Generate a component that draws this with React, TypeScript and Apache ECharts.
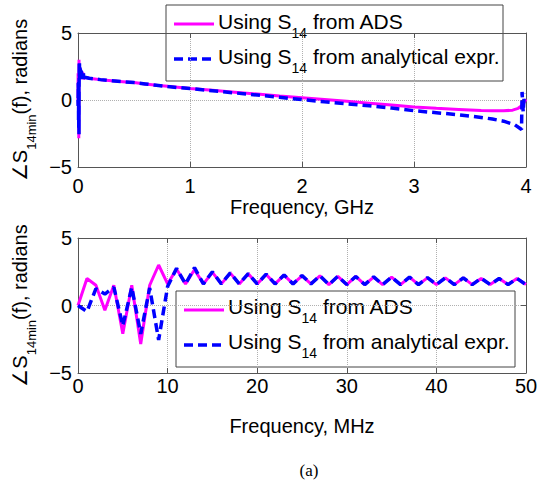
import React, { useEffect, useRef } from "react";
import * as echarts from "echarts";

// ---- Bottom plot (0-50 MHz), also the start of the top plot ----
const botFreq = [0, 1, 2, 3, 4, 5, 6, 7, 8, 9, 10, 11, 12, 13, 14, 15, 16, 17, 18, 19, 20, 21, 22, 23, 24, 25, 26, 27, 28, 29, 30, 31, 32, 33, 34, 35, 36, 37, 38, 39, 40, 41, 42, 43, 44, 45, 46, 47, 48, 49, 50];
const botAdsPhase = [0, 2.0, 1.5, -0.35, 1.5, -2.1, 1.5, -2.85, 1.5, 3.0, 1.6, 2.7, 1.6, 2.65, 1.6, 2.45, 1.6, 2.4, 1.6, 2.35, 1.6, 2.3, 1.6, 2.25, 1.6, 2.2, 1.6, 2.2, 1.55, 2.15, 1.55, 2.15, 1.55, 2.1, 1.55, 2.1, 1.55, 2.1, 1.55, 2.05, 1.55, 2.05, 1.55, 2.05, 1.55, 2.0, 1.55, 2.0, 1.55, 2.0, 1.55];
const botAnaPhase = [0, -0.45, 1.25, 0.85, 1.35, -1.5, 1.35, -2.1, 1.3, -2.55, 1.4, 2.75, 1.6, 2.8, 1.6, 2.5, 1.6, 2.42, 1.6, 2.36, 1.6, 2.32, 1.6, 2.26, 1.6, 2.22, 1.6, 2.2, 1.55, 2.16, 1.55, 2.15, 1.55, 2.12, 1.55, 2.1, 1.55, 2.1, 1.55, 2.06, 1.55, 2.05, 1.55, 2.05, 1.55, 2.02, 1.55, 2.0, 1.55, 2.0, 1.55];

// ---- Top plot (0-4 GHz), continuation beyond 50 MHz ----
const topAdsFreq = [0.06, 0.08, 0.1, 0.15, 0.2, 0.3, 0.4, 0.5, 0.6, 0.7, 0.8, 1.0, 1.2, 1.4, 1.6, 1.8, 2.0, 2.2, 2.4, 2.6, 2.8, 3.0, 3.2, 3.4, 3.5, 3.6, 3.7, 3.8, 3.88, 3.93, 3.97, 4.0];
const topAdsPhase = [1.7, 1.66, 1.62, 1.57, 1.52, 1.44, 1.37, 1.3, 1.2, 1.1, 1.02, 0.86, 0.72, 0.58, 0.44, 0.3, 0.17, 0.04, -0.1, -0.24, -0.38, -0.52, -0.62, -0.7, -0.74, -0.78, -0.8, -0.81, -0.76, -0.62, -0.38, 0.05];
const topAnaFreq = [0.06, 0.08, 0.1, 0.15, 0.2, 0.3, 0.4, 0.5, 0.6, 0.7, 0.8, 1.0, 1.2, 1.4, 1.6, 1.8, 2.0, 2.2, 2.4, 2.6, 2.8, 3.0, 3.2, 3.4, 3.5, 3.6, 3.7, 3.8, 3.9, 3.96, 3.965, 3.975, 3.985];
const topAnaPhase = [1.7, 1.66, 1.62, 1.57, 1.52, 1.44, 1.37, 1.3, 1.2, 1.1, 1.0, 0.85, 0.69, 0.53, 0.37, 0.2, 0.03, -0.13, -0.28, -0.43, -0.6, -0.8, -0.95, -1.1, -1.2, -1.3, -1.42, -1.58, -1.85, -2.2, 0.6, -0.9, 0.5];

const xTopTicks = { min: 0, max: 4, interval: 1 };
const xBotTicks = { min: 0, max: 50, interval: 10 };
const yTicks = { min: -5, max: 5, interval: 5 };

const legendLabels = ["Using S{sub|14} from ADS", "Using S{sub|14} from analytical expr."];
const yName = "∠S{sub|14min}(f), radians";

const FONT = "'Liberation Sans', Arial, Helvetica, sans-serif";
const MAGENTA = "#ff00ff";
const BLUE = "#0000ff";
const AXIS = "#555555";

const zip = (xs: number[], ys: number[]) => xs.map((x, i) => [x, ys[i]]);
const mhzToGhz = (xs: number[]) => xs.map((x) => x / 1000);

const subRich = {
  sub: { fontSize: 13, fontFamily: FONT, color: "#000", fill: "#000", padding: [24, 0, 0, 0] },
};
const legendRich = {
  sub: { fontSize: 14, fontFamily: FONT, color: "#000", fill: "#000", padding: [24, 0, 0, 0] },
};

const minusFmt = (v: number) => (v < 0 ? "\u2212" + Math.abs(v) : String(v));

function mainAxis(grid: number, t: any, name: string, margin: number, nameGap: number) {
  return {
    type: "value",
    gridIndex: grid,
    position: "bottom",
    min: t.min,
    max: t.max,
    interval: t.interval,
    axisLine: { show: true, onZero: false, lineStyle: { color: AXIS, width: 1 } },
    axisTick: { show: true, inside: true, length: 5, lineStyle: { color: AXIS } },
    axisLabel: { margin, fontSize: 20, fontFamily: FONT, color: "#000" },
    splitLine: { show: true, lineStyle: { type: "dotted", color: "#b0b0b0" } },
    name,
    nameLocation: "middle",
    nameGap,
    nameTextStyle: { fontSize: 20, fontFamily: FONT, color: "#000" },
  };
}
function mirrorX(grid: number, t: any) {
  return {
    type: "value",
    gridIndex: grid,
    position: "top",
    min: t.min,
    max: t.max,
    interval: t.interval,
    axisLine: { show: true, onZero: false, lineStyle: { color: AXIS, width: 1 } },
    axisTick: { show: true, inside: true, length: 5, lineStyle: { color: AXIS } },
    axisLabel: { show: false },
    splitLine: { show: false },
  };
}
function mainY(grid: number) {
  return {
    type: "value",
    gridIndex: grid,
    position: "left",
    min: yTicks.min,
    max: yTicks.max,
    interval: yTicks.interval,
    axisLine: { show: true, onZero: false, lineStyle: { color: AXIS, width: 1 } },
    axisTick: { show: true, inside: true, length: 5, lineStyle: { color: AXIS } },
    axisLabel: { margin: 6, fontSize: 20, fontFamily: FONT, color: "#000", formatter: minusFmt },
    splitLine: { show: true, lineStyle: { type: "dotted", color: "#b0b0b0" } },
    name: yName,
    nameLocation: "middle",
    nameGap: 38,
    nameTextStyle: { fontSize: 20, fontFamily: FONT, color: "#000", rich: subRich },
  };
}
function mirrorY(grid: number) {
  return {
    type: "value",
    gridIndex: grid,
    position: "right",
    min: yTicks.min,
    max: yTicks.max,
    interval: yTicks.interval,
    axisLine: { show: true, onZero: false, lineStyle: { color: AXIS, width: 1 } },
    axisTick: { show: true, inside: true, length: 5, lineStyle: { color: AXIS } },
    axisLabel: { show: false },
    splitLine: { show: false },
  };
}

function legendGraphic(x: number, y: number, w: number, h: number, rowY: number[], textY: number[]) {
  const lx = x + 8;
  return {
    type: "group",
    z: 100,
    children: [
      { type: "rect", shape: { x, y, width: w, height: h }, style: { fill: "#fff", stroke: "#444", lineWidth: 1 } },
      { type: "line", shape: { x1: lx, y1: rowY[0], x2: lx + 40, y2: rowY[0] }, style: { stroke: MAGENTA, lineWidth: 3 } },
      { type: "line", shape: { x1: lx, y1: rowY[1], x2: lx + 40, y2: rowY[1] }, style: { stroke: BLUE, lineWidth: 3.5, lineDash: [9, 5] } },
      ...legendLabels.map((t, i) => ({
        type: "text",
        x: lx + 44,
        y: textY[i],
        style: {
          text: t,
          fontSize: 21,
          fontFamily: FONT,
          fill: "#000",
          verticalAlign: "middle",
          align: "left",
          rich: legendRich,
        },
      })),
    ],
  };
}

export default function App() {
  const ref = useRef<HTMLDivElement>(null);
  useEffect(() => {
    if (!ref.current) return;
    const chart = echarts.init(ref.current, undefined, { renderer: "svg" });
    const topAds = zip(mhzToGhz(botFreq), botAdsPhase).concat(zip(topAdsFreq, topAdsPhase));
    const topAna = zip(mhzToGhz(botFreq), botAnaPhase).concat(zip(topAnaFreq, topAnaPhase));
    chart.setOption({
      animation: false,
      backgroundColor: "#fff",
      grid: [
        { left: 78, top: 33, width: 448, height: 134 },
        { left: 78, top: 238, width: 448, height: 135 },
      ],
      xAxis: [
        mainAxis(0, xTopTicks, "Frequency, GHz", 9, 28),
        mirrorX(0, xTopTicks),
        mainAxis(1, xBotTicks, "Frequency, MHz", 3, 43),
        mirrorX(1, xBotTicks),
      ],
      yAxis: [mainY(0), mirrorY(0), mainY(1), mirrorY(1)],
      series: [
        {
          name: "Using S14 from ADS",
          type: "line",
          xAxisIndex: 0,
          yAxisIndex: 0,
          data: topAds,
          symbol: "none",
          showSymbol: false,
          lineStyle: { color: MAGENTA, width: 3 },
          itemStyle: { color: MAGENTA },
          z: 2,
        },
        {
          name: "Using S14 from analytical expr.",
          type: "line",
          xAxisIndex: 0,
          yAxisIndex: 0,
          data: topAna,
          symbol: "none",
          showSymbol: false,
          lineStyle: { color: BLUE, width: 3.5, type: [9, 5] },
          itemStyle: { color: BLUE },
          z: 3,
        },
        {
          name: "Using S14 from ADS",
          type: "line",
          xAxisIndex: 2,
          yAxisIndex: 2,
          data: zip(botFreq, botAdsPhase),
          symbol: "none",
          showSymbol: false,
          lineStyle: { color: MAGENTA, width: 3 },
          itemStyle: { color: MAGENTA },
          z: 2,
        },
        {
          name: "Using S14 from analytical expr.",
          type: "line",
          xAxisIndex: 2,
          yAxisIndex: 2,
          data: zip(botFreq, botAnaPhase),
          symbol: "none",
          showSymbol: false,
          lineStyle: { color: BLUE, width: 3.5, type: [9, 5] },
          itemStyle: { color: BLUE },
          z: 3,
        },
      ],
      graphic: [
        legendGraphic(166, 5, 337, 76, [24, 59], [21, 56]),
        legendGraphic(176, 291, 339, 76, [310, 345], [306, 341]),
        {
          type: "text",
          x: 309,
          y: 470,
          z: 100,
          style: {
            text: "(a)",
            fontSize: 17,
            fontFamily: "'Liberation Serif', 'Times New Roman', serif",
            fill: "#000",
            align: "center",
            verticalAlign: "middle",
          },
        },
      ],
    });
    return () => chart.dispose();
  }, []);
  return <div ref={ref} style={{ position: "fixed", left: 0, top: 0, width: 549, height: 484 }} />;
}
